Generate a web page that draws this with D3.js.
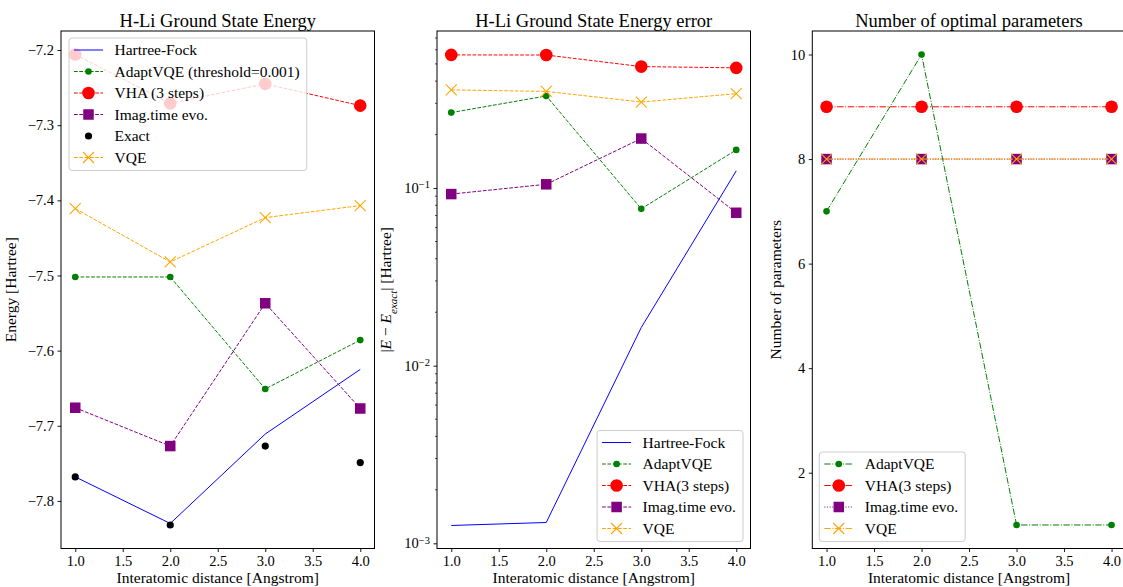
<!DOCTYPE html>
<html>
<head>
<meta charset="utf-8">
<script src="https://cdn.jsdelivr.net/npm/d3@7"></script>
<style>
  html, body { margin: 0; padding: 0; background: #fff; }
  svg text { font-family: "Liberation Serif", "DejaVu Serif", serif; fill: #000; }
</style>
</head>
<body>
<script>
// values
const distances = [1.0, 2.0, 3.0, 4.0]
const xTicks = [1.0, 1.5, 2.0, 2.5, 3.0, 3.5, 4.0]

// panel 1: energies [Hartree]
const energyHF    = [-7.768, -7.830, -7.711, -7.625]
const energyAdapt = [-7.502, -7.502, -7.651, -7.586]
const energyVHA   = [-7.206, -7.271, -7.245, -7.274]
const energyImag  = [-7.676, -7.727, -7.537, -7.677]
const energyExact = [-7.768, -7.832, -7.727, -7.749]
const energyVQE   = [-7.411, -7.482, -7.423, -7.407]
const energyTicks = [-7.8, -7.7, -7.6, -7.5, -7.4, -7.3, -7.2]

// panel 2: |E - E_exact| [Hartree]
const errorHF    = [0.00126, 0.00131, 0.0164, 0.125]
const errorAdapt = [0.266, 0.330, 0.0764, 0.164]
const errorVHA   = [0.562, 0.561, 0.483, 0.475]
const errorImag  = [0.0925, 0.105, 0.190, 0.0726]
const errorVQE   = [0.357, 0.350, 0.305, 0.340]

// panel 3: number of optimal parameters
const paramsAdapt = [7, 10, 1, 1]
const paramsVHA   = [9, 9, 9, 9]
const paramsImag  = [8, 8, 8, 8]
const paramsVQE   = [8, 8, 8, 8]
const paramTicks  = [2, 4, 6, 8, 10]

const width = 1123, height = 587
const axTop = 31, axBottom = 548.5, axWidth = 313.5
const axLefts = [61, 437, 812.3]
const SERIF = '"Liberation Serif", "DejaVu Serif", serif'

const DASH = '3.7,1.6', DASHDOT = '6.4,1.6,1,1.6', DOT = '1,1.65'

const markers = {
    small: {shape: 'circle', r: 3.3},
    big: {shape: 'circle', r: 6.3},
    square: {shape: 'square', s: 10.5},
    dot: {shape: 'circle', r: 3.6},
    x: {shape: 'x', s: 5.5},
}

const svg = d3.select('body').append('svg')
    .attr('width', width).attr('height', height)

const minus = s => String(s).replace('-', '\u2212')

function drawMarker(g, m, color) {
    if (m.shape === 'circle') {
        g.append('circle').attr('r', m.r).attr('fill', color)
    } else if (m.shape === 'square') {
        g.append('rect').attr('x', -m.s / 2).attr('y', -m.s / 2)
            .attr('width', m.s).attr('height', m.s).attr('fill', color)
    } else {
        g.append('path').attr('d', `M${-m.s},${-m.s}L${m.s},${m.s}M${-m.s},${m.s}L${m.s},${-m.s}`)
            .attr('stroke', color).attr('stroke-width', 1.1).attr('fill', 'none')
    }
}

function styleTicks(a) {
    a.attr('font-family', null).attr('font-size', null)
    a.select('.domain').remove()
    a.selectAll('.tick line').attr('stroke', '#000').attr('stroke-width', 0.9)
    a.selectAll('.tick text').style('font-family', SERIF).style('font-size', '14.5px')
}

function drawPanel({index, title, yScale, yTicks, yFormat, yLabel, series, legend}) {
    const left = axLefts[index]
    const right = left + axWidth
    const xScale = d3.scaleLinear().domain([0.85, 4.15]).range([left, right])
    const g = svg.append('g')

    const clipId = 'clip' + index
    svg.append('clipPath').attr('id', clipId).append('rect')
        .attr('x', left).attr('y', axTop).attr('width', axWidth).attr('height', axBottom - axTop)

    // data
    const plot = g.append('g').attr('clip-path', `url(#${clipId})`)
    series.forEach(s => {
        const pts = distances.map((d, i) => [d, s.values[i]])
        if (s.dash !== null) {
            plot.append('path').datum(pts)
                .attr('d', d3.line().x(d => xScale(d[0])).y(d => yScale(d[1])))
                .attr('fill', 'none').attr('stroke', s.color).attr('stroke-width', 1)
                .attr('stroke-dasharray', s.dash || null)
        }
        if (s.marker) {
            pts.forEach(p => {
                const mg = plot.append('g').attr('transform', `translate(${xScale(p[0])},${yScale(p[1])})`)
                drawMarker(mg, markers[s.marker], s.color)
            })
        }
    })

    // axes
    const xAxis = d3.axisBottom(xScale).tickValues(xTicks).tickSize(3.5).tickPadding(3.5)
        .tickFormat(d3.format('.1f'))
    g.append('g').attr('transform', `translate(0,${axBottom})`).call(xAxis).call(styleTicks)

    const yAxis = d3.axisLeft(yScale).tickValues(yTicks).tickSize(3.5).tickPadding(3.5).tickFormat(yFormat)
    const ya = g.append('g').attr('transform', `translate(${left},0)`).call(yAxis).call(styleTicks)

    if (yScale.base) {
        // log axis: superscript labels and minor ticks
        ya.selectAll('.tick text').text(null).each(function (d) {
            const t = d3.select(this)
            t.append('tspan').text('10')
            t.append('tspan').attr('dy', '-0.45em').style('font-size', '10.5px')
                .text(minus(Math.round(Math.log10(d))))
        })
        const [lo, hi] = yScale.domain()
        const minors = []
        for (let e = -4; e <= 0; e++) {
            for (let k = 2; k <= 9; k++) {
                const v = k * Math.pow(10, e)
                if (v > lo && v < hi) minors.push(v)
            }
        }
        g.append('g').selectAll('line').data(minors).join('line')
            .attr('x1', left - 2).attr('x2', left)
            .attr('y1', d => yScale(d)).attr('y2', d => yScale(d))
            .attr('stroke', '#000').attr('stroke-width', 0.7)
    }

    g.append('rect').attr('x', left).attr('y', axTop).attr('width', axWidth).attr('height', axBottom - axTop)
        .attr('fill', 'none').attr('stroke', '#000').attr('stroke-width', 1)

    // labels
    g.append('text').attr('x', left + axWidth / 2).attr('y', 27).attr('text-anchor', 'middle')
        .style('font-size', '18.5px').text(title)
    g.append('text').attr('x', left + axWidth / 2).attr('y', 582.5).attr('text-anchor', 'middle')
        .style('font-size', '15.5px').text('Interatomic distance [Angstrom]')
    const yl = g.append('text')
        .attr('transform', `translate(${left - yLabel.offset},${(axTop + axBottom) / 2}) rotate(-90)`)
        .attr('text-anchor', 'middle').style('font-size', '15.5px')
    yLabel.parts.forEach(p => {
        const ts = yl.append('tspan').text(p.text)
        if (p.italic) ts.style('font-style', 'italic')
        if (p.sub) ts.style('font-size', '11px').attr('baseline-shift', 'sub')
    })

    // legend
    const rowH = 21.5
    const lg = g.append('g')
    const box = lg.append('rect').attr('rx', 3)
        .attr('fill', '#fff').attr('fill-opacity', 0.8).attr('stroke', '#cccccc').attr('stroke-width', 1)
    const rows = lg.append('g')
    let maxW = 0
    legend.entries.forEach((e, i) => {
        const s = series.find(x => x.key === e.key)
        const y = 12 + i * rowH
        if (s.dash !== null) {
            rows.append('line').attr('x1', 5).attr('x2', 34).attr('y1', y).attr('y2', y)
                .attr('stroke', s.color).attr('stroke-width', 1).attr('stroke-dasharray', s.dash || null)
        }
        if (s.marker) {
            drawMarker(rows.append('g').attr('transform', `translate(19.5,${y})`), markers[s.marker], s.color)
        }
        const t = rows.append('text').attr('x', 45.5).attr('y', y).attr('dy', '0.35em')
            .style('font-size', '15.5px').text(e.label)
        maxW = Math.max(maxW, t.node().getComputedTextLength())
    })
    const bw = 45.5 + maxW + 7
    const bh = 12 + (legend.entries.length - 1) * rowH + 13
    box.attr('width', bw).attr('height', bh)
    let bx, by
    if (legend.loc === 'upper left') { bx = left + 8; by = axTop + 7 }
    else if (legend.loc === 'lower right') { bx = right - 7.5 - bw; by = axBottom - 7 - bh }
    else { bx = left + 7; by = axBottom - 7 - bh }
    lg.attr('transform', `translate(${bx},${by})`)
}

const colors = {hf: 'blue', adapt: 'green', vha: 'red', imag: 'purple', exact: 'black', vqe: 'orange'}

drawPanel({
    index: 0,
    title: 'H-Li Ground State Energy',
    yScale: d3.scaleLinear().domain([-7.8633, -7.1747]).range([axBottom, axTop]),
    yTicks: energyTicks,
    yFormat: d => minus(d3.format('.1f')(d)),
    yLabel: {offset: 45, parts: [{text: 'Energy [Hartree]'}]},
    series: [
        {key: 'hf', values: energyHF, color: colors.hf, dash: ''},
        {key: 'adapt', values: energyAdapt, color: colors.adapt, dash: DASH, marker: 'small'},
        {key: 'vha', values: energyVHA, color: colors.vha, dash: DASH, marker: 'big'},
        {key: 'imag', values: energyImag, color: colors.imag, dash: DASH, marker: 'square'},
        {key: 'exact', values: energyExact, color: colors.exact, dash: null, marker: 'dot'},
        {key: 'vqe', values: energyVQE, color: colors.vqe, dash: DASH, marker: 'x'},
    ],
    legend: {loc: 'upper left', entries: [
        {key: 'hf', label: 'Hartree-Fock'},
        {key: 'adapt', label: 'AdaptVQE (threshold=0.001)'},
        {key: 'vha', label: 'VHA (3 steps)'},
        {key: 'imag', label: 'Imag.time evo.'},
        {key: 'exact', label: 'Exact'},
        {key: 'vqe', label: 'VQE'},
    ]},
})

drawPanel({
    index: 1,
    title: 'H-Li Ground State Energy error',
    yScale: d3.scaleLog().domain([0.000935, 0.766]).range([axBottom, axTop]),
    yTicks: [0.001, 0.01, 0.1],
    yFormat: d => d,
    yLabel: {offset: 46, parts: [
        {text: '|'}, {text: 'E', italic: true}, {text: ' \u2212 '}, {text: 'E', italic: true},
        {text: 'exact', italic: true, sub: true}, {text: '| [Hartree]'}]},
    series: [
        {key: 'hf', values: errorHF, color: colors.hf, dash: ''},
        {key: 'adapt', values: errorAdapt, color: colors.adapt, dash: DASH, marker: 'small'},
        {key: 'vha', values: errorVHA, color: colors.vha, dash: DASH, marker: 'big'},
        {key: 'imag', values: errorImag, color: colors.imag, dash: DASH, marker: 'square'},
        {key: 'vqe', values: errorVQE, color: colors.vqe, dash: DASH, marker: 'x'},
    ],
    legend: {loc: 'lower right', entries: [
        {key: 'hf', label: 'Hartree-Fock'},
        {key: 'adapt', label: 'AdaptVQE'},
        {key: 'vha', label: 'VHA(3 steps)'},
        {key: 'imag', label: 'Imag.time evo.'},
        {key: 'vqe', label: 'VQE'},
    ]},
})

drawPanel({
    index: 2,
    title: 'Number of optimal parameters',
    yScale: d3.scaleLinear().domain([0.55, 10.45]).range([axBottom, axTop]),
    yTicks: paramTicks,
    yFormat: d3.format('d'),
    yLabel: {offset: 31, parts: [{text: 'Number of parameters'}]},
    series: [
        {key: 'adapt', values: paramsAdapt, color: colors.adapt, dash: DASHDOT, marker: 'small'},
        {key: 'vha', values: paramsVHA, color: colors.vha, dash: DASHDOT, marker: 'big'},
        {key: 'imag', values: paramsImag, color: colors.imag, dash: DOT, marker: 'square'},
        {key: 'vqe', values: paramsVQE, color: colors.vqe, dash: DASHDOT, marker: 'x'},
    ],
    legend: {loc: 'lower left', entries: [
        {key: 'adapt', label: 'AdaptVQE'},
        {key: 'vha', label: 'VHA(3 steps)'},
        {key: 'imag', label: 'Imag.time evo.'},
        {key: 'vqe', label: 'VQE'},
    ]},
})
</script>
</body>
</html>
